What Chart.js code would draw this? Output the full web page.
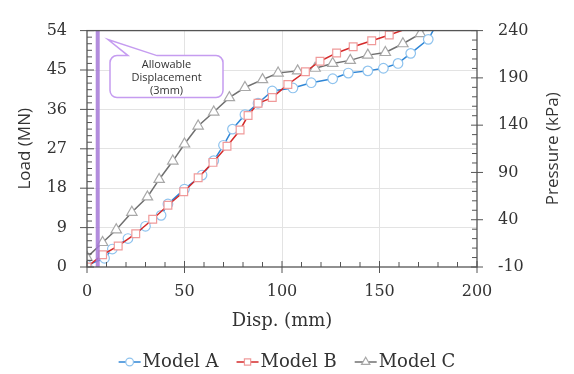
<!DOCTYPE html>
<html>
<head>
<meta charset="utf-8">
<script src="https://cdn.jsdelivr.net/npm/chart.js@4.4.0/dist/chart.umd.min.js"></script>
<style>
    html, body { margin: 0; padding: 0; background: #fff; }
</style>
</head>
<body>
<canvas id="graficoCarga" width="574" height="374"></canvas>
<script>
// ===================================== Datos ==================
const dispA = [0, 9, 13, 21, 30, 38, 41.5, 50, 59, 65, 70, 74.6, 81, 87.7, 95, 105.6, 115, 126, 134, 144, 152, 159.5, 166, 175, 180];
const loadA = [0.4, 2, 4.1, 6.5, 9.3, 11.8, 14.4, 17.8, 21, 24.3, 27.8, 31.5, 34.8, 37.4, 40.2, 40.9, 42.1, 43, 44.3, 44.8, 45.4, 46.5, 48.8, 52, 56];

const dispB = [0, 8, 16, 25, 33.7, 41.5, 49.6, 57, 64.6, 71.8, 78.5, 82.6, 87.7, 95, 103, 112, 119.5, 128, 136.5, 146, 155, 170];
const loadB = [0, 2.8, 4.8, 7.6, 10.9, 14.1, 17.2, 20.4, 23.9, 27.6, 31.3, 34.6, 37.4, 38.7, 41.7, 44.6, 47, 48.9, 50.3, 51.7, 53, 55.4];

const dispC = [0, 8, 15, 23, 31, 37, 44, 50, 57, 65, 73, 81, 90, 98, 108, 117, 126, 135, 144, 153, 162, 171, 178];
const loadC = [2.2, 5.6, 8.5, 12.5, 16, 20, 24.2, 28.1, 32.2, 35.4, 38.7, 41, 42.8, 44.3, 44.8, 45.4, 46.5, 47.2, 48.4, 49, 51, 53.3, 57];

// linea de desplazamiento admisible
const limiteX = [5.5, 5.5];
const limiteY = [0, 54];

const nombresSeries = ['Model A', 'Model B', 'Model C'];
const textoNota = ['Allowable', 'Displacement', '(3mm)'];

// ejes
const ticksX = [0, 50, 100, 150, 200];
const ticksCarga = [0, 9, 18, 27, 36, 45, 54];
const ticksPresion = [-10, 40, 90, 140, 190, 240];

const puntos = (xs, ys) => xs.map((x, i) => ({ x: x, y: ys[i] }));

// ===================================== Estilos de series ==================
const estilos = [
    { linea: '#2f86d6', marca: '#8fc3ee', forma: 'circle', radio: 4.8 },
    { linea: '#d42a2a', marca: '#f09a9a', forma: 'rect', radio: 5.5 },
    { linea: '#707070', marca: '#a8a8a8', forma: 'triangle', radio: 6 }
];

const fuenteSerif = '"DejaVu Serif", serif';
const fuenteSans = '"Open Sans", sans-serif';

// ===================================== Plugin: marco, ticks, nota y leyenda ==================
const extrasGrafico = {
    id: 'extrasGrafico',
    afterDraw(chart) {
        const { ctx, chartArea: a, scales } = chart;
        ctx.save();

        // marco
        ctx.strokeStyle = '#555';
        ctx.lineWidth = 1.3;
        ctx.strokeRect(a.left, a.top, a.right - a.left, a.bottom - a.top);

        const raya = (x1, y1, x2, y2) => { ctx.beginPath(); ctx.moveTo(x1, y1); ctx.lineTo(x2, y2); ctx.stroke(); };
        ctx.lineWidth = 1;

        // ticks izquierda (cada 1.5)
        for (let i = 0; i <= 36; i++) {
            const y = scales.y.getPixelForValue(i * 1.5);
            if (i % 6 === 0) raya(a.left - 7, y, a.left + 7, y);
            else raya(a.left, y, a.left + 5, y);
        }
        // ticks derecha (cada 10)
        for (let i = 0; i <= 25; i++) {
            const y = scales.y2.getPixelForValue(-10 + i * 10);
            if (i % 5 === 0) raya(a.right - 6, y, a.right + 6, y);
            else raya(a.right - 5, y, a.right, y);
        }
        // ticks abajo (cada 10)
        for (let i = 0; i <= 20; i++) {
            const x = scales.x.getPixelForValue(i * 10);
            if (i % 5 === 0) raya(x, a.bottom - 6, x, a.bottom + 6);
            else raya(x, a.bottom - 5, x, a.bottom);
        }

        // titulo eje derecho (se lee de abajo hacia arriba)
        ctx.save();
        ctx.translate(553, (a.top + a.bottom) / 2);
        ctx.rotate(-Math.PI / 2);
        ctx.fillStyle = '#333';
        ctx.font = '17px ' + fuenteSans;
        ctx.textAlign = 'center';
        ctx.textBaseline = 'middle';
        ctx.fillText('Pressure (kPa)', 0, 0);
        ctx.restore();

        // nota "Allowable Displacement"
        const L = a.left + 23, T = a.top + 25, R = L + 113, B = T + 42, r = 7;
        ctx.beginPath();
        ctx.moveTo(L + r, T);
        ctx.lineTo(a.left + 41, T);
        ctx.lineTo(a.left + 21, a.top + 9);
        ctx.lineTo(a.left + 70, T);
        ctx.lineTo(R - r, T);
        ctx.arcTo(R, T, R, T + r, r);
        ctx.lineTo(R, B - r);
        ctx.arcTo(R, B, R - r, B, r);
        ctx.lineTo(L + r, B);
        ctx.arcTo(L, B, L, B - r, r);
        ctx.lineTo(L, T + r);
        ctx.arcTo(L, T, L + r, T, r);
        ctx.closePath();
        ctx.fillStyle = '#fff';
        ctx.fill();
        ctx.strokeStyle = '#c59cf0';
        ctx.lineWidth = 1.5;
        ctx.stroke();
        ctx.fillStyle = '#333';
        ctx.font = '11px ' + fuenteSans;
        ctx.textAlign = 'center';
        ctx.textBaseline = 'middle';
        textoNota.forEach((t, i) => ctx.fillText(t, (L + R) / 2, T + 9 + i * 13));

        // leyenda
        ctx.font = '18px ' + fuenteSerif;
        ctx.textAlign = 'left';
        const anchoMuestra = 22, hueco = 2, sep = 18, yLey = 362;
        const anchos = nombresSeries.map(n => ctx.measureText(n).width);
        const total = anchos.reduce((s, w) => s + w, 0) + nombresSeries.length * (anchoMuestra + hueco) + sep * (nombresSeries.length - 1);
        let x = 287 - total / 2;
        nombresSeries.forEach((n, i) => {
            const e = estilos[i];
            ctx.strokeStyle = e.linea;
            ctx.lineWidth = 1.5;
            raya(x, yLey, x + anchoMuestra, yLey);
            ctx.fillStyle = '#fff';
            ctx.strokeStyle = e.marca;
            ctx.lineWidth = 1.2;
            Chart.helpers.drawPoint(ctx, { pointStyle: e.forma, radius: e.radio * 0.8, borderWidth: 1.2, rotation: 0 }, x + anchoMuestra / 2, yLey);
            ctx.fillStyle = '#333';
            ctx.fillText(n, x + anchoMuestra + hueco, yLey);
            x += anchoMuestra + hueco + anchos[i] + sep;
        });

        ctx.restore();
    }
};

// ===================================== Grafico ==================
const serie = (i, datos, orden) => ({
    label: nombresSeries[i],
    data: datos,
    borderColor: estilos[i].linea,
    borderWidth: 1.5,
    pointStyle: estilos[i].forma,
    pointRadius: estilos[i].radio,
    pointBorderColor: estilos[i].marca,
    pointBackgroundColor: '#fff',
    pointBorderWidth: 1.2,
    tension: 0,
    order: orden,
    yAxisID: 'y'
});

const gridColor = (extremos) => (c) => extremos.includes(c.tick.value) ? 'rgba(0,0,0,0)' : '#e3e3e3';

new Chart(document.getElementById('graficoCarga'), {
    type: 'line',
    data: {
        datasets: [
            {
                label: 'limite',
                data: puntos(limiteX, limiteY),
                borderColor: 'rgba(165, 120, 215, 0.85)',
                borderWidth: 4,
                pointRadius: 0,
                order: 0,
                yAxisID: 'y'
            },
            serie(1, puntos(dispB, loadB), 1),
            serie(0, puntos(dispA, loadA), 2),
            serie(2, puntos(dispC, loadC), 3)
        ]
    },
    options: {
        responsive: false,
        animation: false,
        layout: { padding: { top: 18, bottom: 42, left: 0, right: 0 } },
        plugins: { legend: { display: false }, tooltip: { enabled: false } },
        scales: {
            x: {
                type: 'linear',
                min: 0, max: 200,
                afterBuildTicks: s => { s.ticks = ticksX.map(v => ({ value: v })); },
                afterFit: s => { s.height = 65; },
                grid: { color: gridColor([0, 200]), drawTicks: false },
                border: { display: false },
                ticks: { padding: 15, color: '#333', font: { family: fuenteSerif, size: 16 } },
                title: { display: true, text: 'Disp. (mm)', color: '#333', padding: { top: 0, bottom: 0 }, font: { family: fuenteSerif, size: 18 } }
            },
            y: {
                position: 'left',
                min: 0, max: 54,
                afterBuildTicks: s => { s.ticks = ticksCarga.map(v => ({ value: v })); },
                afterFit: s => { s.width = 87; },
                grid: { color: gridColor([0, 54]), drawTicks: false },
                border: { display: false },
                ticks: { padding: 20, color: '#333', font: { family: fuenteSerif, size: 16 } },
                title: { display: true, text: 'Load (MN)', color: '#333', padding: { top: 15, bottom: 0 }, font: { family: fuenteSans, size: 17 } }
            },
            y2: {
                position: 'right',
                min: -10, max: 240,
                afterBuildTicks: s => { s.ticks = ticksPresion.map(v => ({ value: v })); },
                afterFit: s => { s.width = 97; },
                grid: { display: false, drawTicks: false },
                border: { display: false },
                ticks: { padding: 21, color: '#333', font: { family: fuenteSerif, size: 16 } }
            }
        }
    },
    plugins: [extrasGrafico]
});
</script>
</body>
</html>
